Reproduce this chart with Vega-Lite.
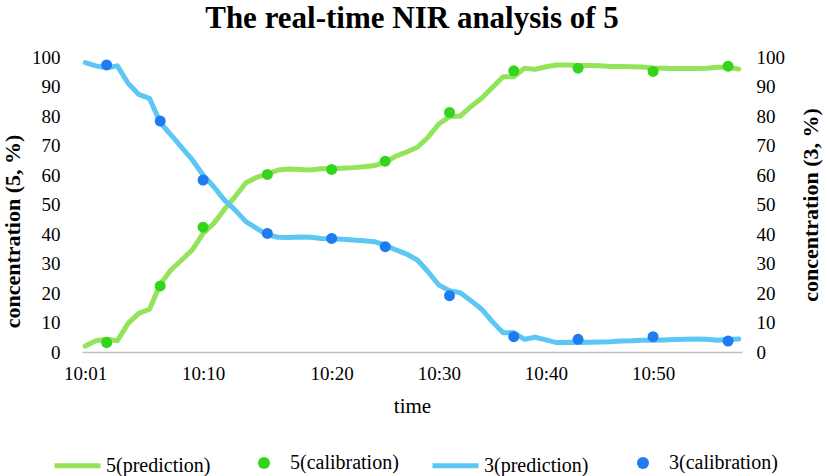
{
  "$schema": "https://vega.github.io/schema/vega-lite/v6.json",
  "width": 660,
  "height": 295,
  "autosize": {"type": "none"},
  "padding": {"left": 82, "top": 57, "right": 85, "bottom": 124},
  "background": "#ffffff",
  "title": {
    "text": "The real-time NIR analysis of 5",
    "font": "Liberation Serif",
    "fontSize": 31,
    "fontWeight": "bold",
    "color": "#000000",
    "anchor": "middle",
    "offset": 13
  },
  "config": {
    "view": {"stroke": null},
    "axis": {
      "labelFont": "Liberation Serif",
      "titleFont": "Liberation Serif",
      "labelColor": "#000000",
      "titleColor": "#000000",
      "grid": false,
      "ticks": false,
      "domain": false
    },
    "legend": {
      "labelFont": "Liberation Serif",
      "labelFontSize": 20,
      "labelColor": "#000000",
      "labelLimit": 300,
      "padding": 0
    }
  },
  "data": {
    "values": [
      {"time": "10:01:00", "kind": "prediction", "c5": 2.0, "c3": 98.1},
      {"time": "10:01:49", "kind": "prediction", "c5": 3.8, "c3": 97.0},
      {"time": "10:02:38", "kind": "prediction", "c5": 4.3, "c3": 96.3},
      {"time": "10:03:27", "kind": "prediction", "c5": 3.8, "c3": 97.0},
      {"time": "10:04:16", "kind": "prediction", "c5": 9.7, "c3": 91.1},
      {"time": "10:05:05", "kind": "prediction", "c5": 13.1, "c3": 87.3},
      {"time": "10:05:55", "kind": "prediction", "c5": 14.5, "c3": 86.0},
      {"time": "10:06:44", "kind": "prediction", "c5": 23.0, "c3": 77.8},
      {"time": "10:07:33", "kind": "prediction", "c5": 27.8, "c3": 73.6},
      {"time": "10:08:22", "kind": "prediction", "c5": 31.2, "c3": 69.4},
      {"time": "10:09:11", "kind": "prediction", "c5": 34.6, "c3": 65.1},
      {"time": "10:10:00", "kind": "prediction", "c5": 40.2, "c3": 60.0},
      {"time": "10:10:50", "kind": "prediction", "c5": 43.6, "c3": 56.0},
      {"time": "10:11:40", "kind": "prediction", "c5": 48.4, "c3": 51.5},
      {"time": "10:12:30", "kind": "prediction", "c5": 52.7, "c3": 48.1},
      {"time": "10:13:20", "kind": "prediction", "c5": 57.4, "c3": 44.2},
      {"time": "10:14:10", "kind": "prediction", "c5": 59.2, "c3": 41.9},
      {"time": "10:15:00", "kind": "prediction", "c5": 60.3, "c3": 39.7},
      {"time": "10:15:50", "kind": "prediction", "c5": 61.7, "c3": 38.9},
      {"time": "10:16:40", "kind": "prediction", "c5": 62.0, "c3": 38.8},
      {"time": "10:17:30", "kind": "prediction", "c5": 61.9, "c3": 39.0},
      {"time": "10:18:20", "kind": "prediction", "c5": 61.7, "c3": 38.9},
      {"time": "10:19:10", "kind": "prediction", "c5": 62.1, "c3": 38.5},
      {"time": "10:20:00", "kind": "prediction", "c5": 62.1, "c3": 38.4},
      {"time": "10:21:00", "kind": "prediction", "c5": 62.3, "c3": 38.2},
      {"time": "10:22:00", "kind": "prediction", "c5": 62.5, "c3": 38.0},
      {"time": "10:23:00", "kind": "prediction", "c5": 62.8, "c3": 37.7},
      {"time": "10:24:00", "kind": "prediction", "c5": 63.2, "c3": 37.4},
      {"time": "10:25:00", "kind": "prediction", "c5": 64.3, "c3": 36.2},
      {"time": "10:26:00", "kind": "prediction", "c5": 66.4, "c3": 34.6},
      {"time": "10:27:00", "kind": "prediction", "c5": 67.8, "c3": 33.2},
      {"time": "10:28:00", "kind": "prediction", "c5": 69.4, "c3": 31.2},
      {"time": "10:29:00", "kind": "prediction", "c5": 72.8, "c3": 27.2},
      {"time": "10:30:00", "kind": "prediction", "c5": 77.3, "c3": 22.7},
      {"time": "10:31:00", "kind": "prediction", "c5": 79.8, "c3": 20.8},
      {"time": "10:32:00", "kind": "prediction", "c5": 80.0, "c3": 20.1},
      {"time": "10:33:00", "kind": "prediction", "c5": 83.2, "c3": 17.4},
      {"time": "10:34:00", "kind": "prediction", "c5": 86.0, "c3": 14.5},
      {"time": "10:35:00", "kind": "prediction", "c5": 89.7, "c3": 10.3},
      {"time": "10:36:00", "kind": "prediction", "c5": 93.3, "c3": 6.5},
      {"time": "10:37:00", "kind": "prediction", "c5": 93.3, "c3": 6.6},
      {"time": "10:38:00", "kind": "prediction", "c5": 96.2, "c3": 4.3},
      {"time": "10:39:00", "kind": "prediction", "c5": 95.8, "c3": 5.0},
      {"time": "10:40:00", "kind": "prediction", "c5": 96.7, "c3": 4.1},
      {"time": "10:41:00", "kind": "prediction", "c5": 97.3, "c3": 3.2},
      {"time": "10:42:00", "kind": "prediction", "c5": 97.3, "c3": 3.3},
      {"time": "10:43:00", "kind": "prediction", "c5": 97.1, "c3": 3.2},
      {"time": "10:44:00", "kind": "prediction", "c5": 97.1, "c3": 3.3},
      {"time": "10:45:00", "kind": "prediction", "c5": 97.0, "c3": 3.4},
      {"time": "10:46:00", "kind": "prediction", "c5": 96.8, "c3": 3.5},
      {"time": "10:47:00", "kind": "prediction", "c5": 96.8, "c3": 3.7},
      {"time": "10:48:00", "kind": "prediction", "c5": 96.7, "c3": 3.8},
      {"time": "10:49:00", "kind": "prediction", "c5": 96.6, "c3": 4.0},
      {"time": "10:50:00", "kind": "prediction", "c5": 96.3, "c3": 4.0},
      {"time": "10:51:00", "kind": "prediction", "c5": 96.2, "c3": 4.1},
      {"time": "10:52:00", "kind": "prediction", "c5": 96.1, "c3": 4.2},
      {"time": "10:53:00", "kind": "prediction", "c5": 96.1, "c3": 4.3},
      {"time": "10:54:00", "kind": "prediction", "c5": 96.1, "c3": 4.4},
      {"time": "10:55:00", "kind": "prediction", "c5": 96.2, "c3": 4.3},
      {"time": "10:56:00", "kind": "prediction", "c5": 96.5, "c3": 4.0},
      {"time": "10:57:00", "kind": "prediction", "c5": 96.5, "c3": 4.2},
      {"time": "10:58:00", "kind": "prediction", "c5": 95.9, "c3": 4.4},
      {"time": "10:02:38", "kind": "calibration", "c5": 3.2, "c3": 97.3},
      {"time": "10:06:44", "kind": "calibration", "c5": 22.4, "c3": 78.3},
      {"time": "10:10:00", "kind": "calibration", "c5": 42.3, "c3": 58.3},
      {"time": "10:15:00", "kind": "calibration", "c5": 60.2, "c3": 40.2},
      {"time": "10:20:00", "kind": "calibration", "c5": 61.9, "c3": 38.5},
      {"time": "10:25:00", "kind": "calibration", "c5": 64.7, "c3": 35.7},
      {"time": "10:31:00", "kind": "calibration", "c5": 81.2, "c3": 19.1},
      {"time": "10:37:00", "kind": "calibration", "c5": 95.3, "c3": 5.2},
      {"time": "10:43:00", "kind": "calibration", "c5": 96.2, "c3": 4.3},
      {"time": "10:50:00", "kind": "calibration", "c5": 95.1, "c3": 5.2},
      {"time": "10:57:00", "kind": "calibration", "c5": 96.9, "c3": 3.7}
    ]
  },
  "encoding": {
    "x": {
      "field": "time",
      "type": "ordinal",
      "scale": {"type": "point", "padding": 0.3},
      "axis": {
        "title": "time",
        "titleFont": "Liberation Serif",
        "titleFontSize": 21,
        "titleFontWeight": "normal",
        "titlePadding": 12,
        "labelFont": "Liberation Serif",
        "labelFontSize": 19,
        "labelPadding": 12,
        "labelAngle": 0,
        "domain": true,
        "domainColor": "#BFBFBF",
        "domainWidth": 1.5,
        "values": ["10:01:00", "10:10:00", "10:20:00", "10:30:00", "10:40:00", "10:50:00"],
        "labelExpr": "substring(datum.value, 0, 5)"
      }
    }
  },
  "layer": [
    {
      "transform": [{"filter": "datum.kind == 'prediction'"}],
      "mark": {"type": "line", "strokeWidth": 5, "strokeJoin": "round", "strokeCap": "round"},
      "encoding": {
        "y": {
          "field": "c5",
          "type": "quantitative",
          "scale": {"domain": [0, 100]},
          "axis": {
            "orient": "left",
            "title": "concentration (5, %)",
            "titleFont": "Liberation Serif",
            "titleFontSize": 22,
            "titleFontWeight": "bold",
            "titlePadding": 7,
            "titleY": 174,
            "labelFont": "Liberation Serif",
            "labelFontSize": 19,
            "labelPadding": 22,
            "values": [0, 10, 20, 30, 40, 50, 60, 70, 80, 90, 100]
          }
        },
        "stroke": {
          "datum": "5(prediction)",
          "scale": {
            "domain": ["5(prediction)", "3(prediction)"],
            "range": ["#93E35B", "#5DC7F4"]
          },
          "legend": {
            "title": null,
            "orient": "none",
            "legendX": -30,
            "legendY": 383,
            "direction": "horizontal",
            "symbolType": "stroke",
            "symbolSize": 2116,
            "symbolStrokeWidth": 5,
            "labelOffset": 3,
            "columnPadding": 211
          }
        }
      }
    },
    {
      "transform": [{"filter": "datum.kind == 'calibration'"}],
      "mark": {"type": "point", "filled": true, "size": 121, "opacity": 1},
      "encoding": {
        "y": {"field": "c5", "type": "quantitative", "scale": {"domain": [0, 100]}, "axis": null},
        "fill": {
          "datum": "5(calibration)",
          "scale": {
            "domain": ["5(calibration)", "3(calibration)"],
            "range": ["#34D41C", "#1E7BF2"]
          },
          "legend": {
            "title": null,
            "orient": "none",
            "legendX": 172,
            "legendY": 396,
            "direction": "horizontal",
            "symbolType": "circle",
            "symbolSize": 144,
            "symbolStrokeWidth": 0,
            "symbolOpacity": 1,
            "labelOffset": 16,
            "columnPadding": 234
          }
        }
      }
    },
    {
      "transform": [{"filter": "datum.kind == 'prediction'"}],
      "mark": {"type": "line", "strokeWidth": 5, "strokeJoin": "round", "strokeCap": "round"},
      "encoding": {
        "y": {
          "field": "c3",
          "type": "quantitative",
          "scale": {"domain": [0, 100]},
          "axis": {
            "orient": "right",
            "title": "concentration (3, %)",
            "titleFont": "Liberation Serif",
            "titleFontSize": 22,
            "titleFontWeight": "bold",
            "titleAngle": 270,
            "titlePadding": 38,
            "labelFont": "Liberation Serif",
            "labelFontSize": 19,
            "labelPadding": 14,
            "values": [0, 10, 20, 30, 40, 50, 60, 70, 80, 90, 100]
          }
        },
        "stroke": {"datum": "3(prediction)"}
      }
    },
    {
      "transform": [{"filter": "datum.kind == 'calibration'"}],
      "mark": {"type": "point", "filled": true, "size": 121, "opacity": 1},
      "encoding": {
        "y": {"field": "c3", "type": "quantitative", "scale": {"domain": [0, 100]}, "axis": null},
        "fill": {"datum": "3(calibration)"}
      }
    }
  ],
  "resolve": {"scale": {"y": "independent"}, "axis": {"y": "independent"}}
}
